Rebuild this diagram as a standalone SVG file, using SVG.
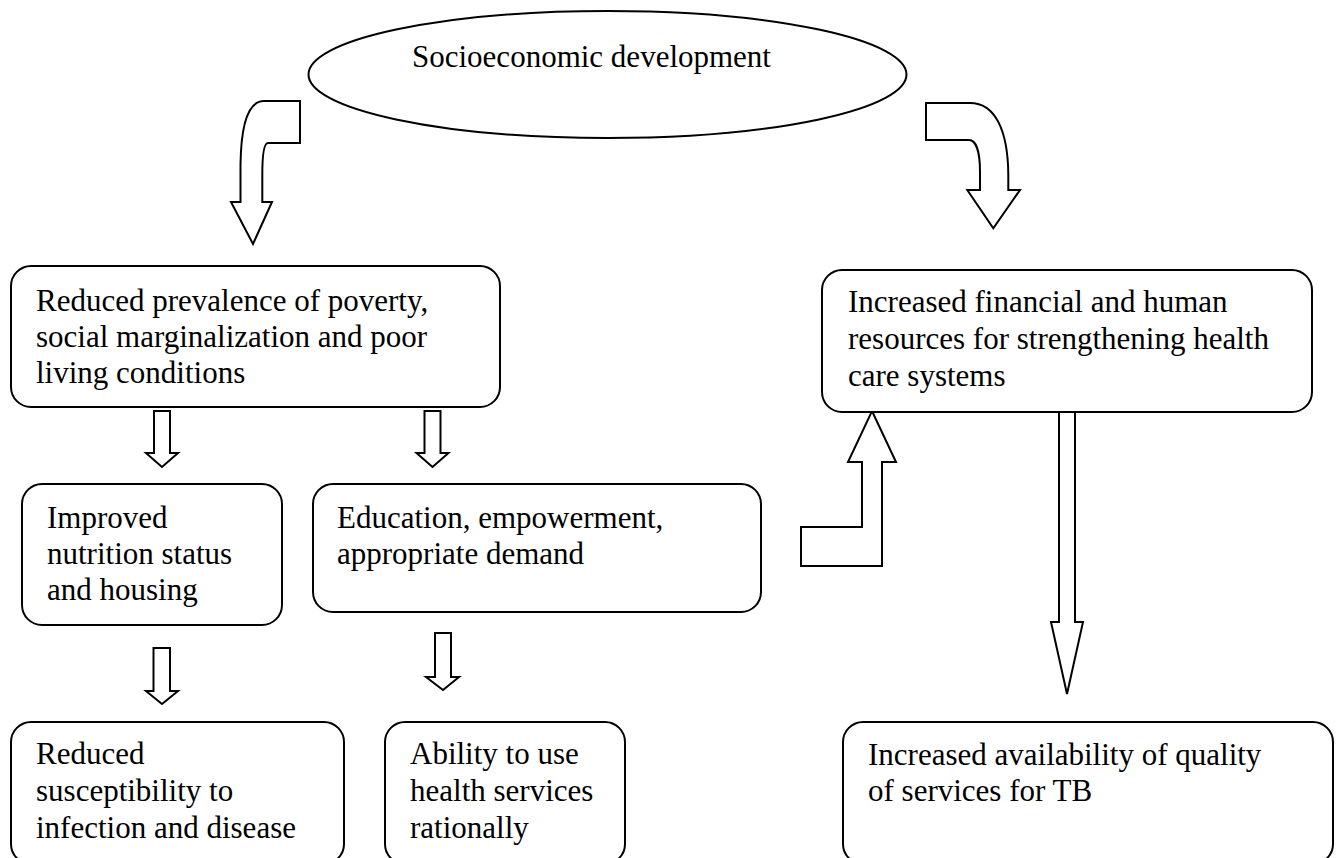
<svg xmlns="http://www.w3.org/2000/svg" width="1338" height="858" viewBox="0 0 1338 858">
  <style>
    .shape { fill: #ffffff; stroke: #000000; stroke-width: 2; }
    .arrow { fill: #ffffff; stroke: #000000; stroke-width: 2; stroke-linejoin: miter; }
    .label { font-family: "Liberation Serif", "Times New Roman", serif; font-size: 31px; fill: #000000; }
  </style>
  <rect width="1338" height="858" fill="#ffffff"/>

  <!-- block arrows -->
  <g id="connectors">
    <path class="arrow" d="M 300,101 L 264,101 C 248,101 241,125 240.5,165 L 240.5,202 L 231,202 L 253,244 L 272,202 L 262.3,202 L 262.3,175 C 262.3,155 264,143 268,143 L 300,143 Z"/>
    <path class="arrow" d="M 926,103 L 970,103 C 995,103 1008,130 1008.3,175 L 1008.3,190 L 1020,190 L 993.3,228.3 L 967.3,190 L 980,190 L 980,172 C 980,152 976,140 969,140 L 926,140 Z"/>
    <path class="arrow" d="M 154,411 L 170,411 L 170,453 L 178,453 L 162,467 L 146,453 L 154,453 Z"/>
    <path class="arrow" d="M 424.5,411 L 440.5,411 L 440.5,453 L 448.5,453 L 432.5,467 L 416.5,453 L 424.5,453 Z"/>
    <path class="arrow" d="M 153.5,648 L 170,648 L 170,691 L 178,691 L 162,704 L 146,691 L 153.5,691 Z"/>
    <path class="arrow" d="M 435,633 L 451,633 L 451,677 L 459,677 L 443,690 L 426,677 L 435,677 Z"/>
    <path class="arrow" d="M 872,411 L 896,462 L 882,462 L 882,566 L 801,566 L 801,527 L 862,527 L 862,462 L 848,462 Z"/>
    <path class="arrow" d="M 1059,411 L 1075,411 L 1075,622 L 1083,622 L 1067,694 L 1051,622 L 1059,622 Z"/>
  </g>

  <g id="socioeconomic-development">
    <ellipse class="shape" cx="607.5" cy="74.5" rx="299" ry="63.5"/>
    <text class="label" x="412" y="67">Socioeconomic development</text>
  </g>

  <g id="reduced-poverty">
    <rect class="shape" x="11" y="266" width="489" height="141" rx="20" ry="20"/>
    <text class="label" x="36" y="311">Reduced prevalence of poverty,</text>
    <text class="label" x="36" y="347">social marginalization and poor</text>
    <text class="label" x="36" y="383">living conditions</text>
  </g>

  <g id="health-resources">
    <rect class="shape" x="822" y="270" width="490" height="142" rx="20" ry="20"/>
    <text class="label" x="848" y="312">Increased financial and human</text>
    <text class="label" x="848" y="349">resources for strengthening health</text>
    <text class="label" x="848" y="386">care systems</text>
  </g>

  <g id="nutrition-housing">
    <rect class="shape" x="22" y="484" width="260" height="141" rx="20" ry="20"/>
    <text class="label" x="47" y="528">Improved</text>
    <text class="label" x="47" y="564">nutrition status</text>
    <text class="label" x="47" y="600">and housing</text>
  </g>

  <g id="education-empowerment">
    <rect class="shape" x="313" y="484" width="448" height="128" rx="20" ry="20"/>
    <text class="label" x="337" y="528">Education, empowerment,</text>
    <text class="label" x="337" y="564">appropriate demand</text>
  </g>

  <g id="reduced-susceptibility">
    <rect class="shape" x="11" y="722" width="333" height="142" rx="20" ry="20"/>
    <text class="label" x="36" y="764">Reduced</text>
    <text class="label" x="36" y="801">susceptibility to</text>
    <text class="label" x="36" y="838">infection and disease</text>
  </g>

  <g id="rational-use">
    <rect class="shape" x="385" y="722" width="240" height="142" rx="20" ry="20"/>
    <text class="label" x="410" y="764">Ability to use</text>
    <text class="label" x="410" y="801">health services</text>
    <text class="label" x="410" y="838">rationally</text>
  </g>

  <g id="tb-services">
    <rect class="shape" x="843" y="722" width="490" height="142" rx="20" ry="20"/>
    <text class="label" x="868" y="765">Increased availability of quality</text>
    <text class="label" x="868" y="801">of services for TB</text>
  </g>
</svg>
